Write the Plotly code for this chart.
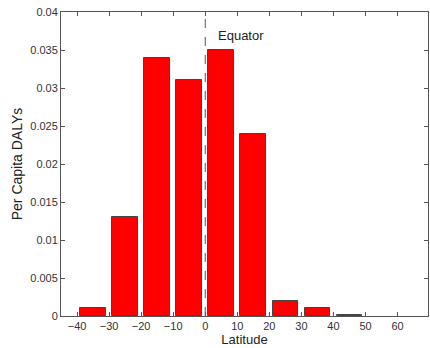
import plotly.graph_objects as go

latitude = [-35, -25, -15, -5, 5, 15, 25, 35, 45]
dalys = [0.001, 0.013, 0.034, 0.031, 0.035, 0.024, 0.002, 0.001, 0.00015]
x_ticks = [-40, -30, -20, -10, 0, 10, 20, 30, 40, 50, 60]
y_ticks = [0, 0.005, 0.01, 0.015, 0.02, 0.025, 0.03, 0.035, 0.04]
y_ticktext = ["0", "0.005", "0.01", "0.015", "0.02", "0.025", "0.03", "0.035", "0.04"]

FONT = "Liberation Sans, Arial, Helvetica"

fig = go.Figure()
fig.add_trace(go.Bar(
    x=latitude, y=dalys, width=8,
    marker=dict(color="#ff0000", line=dict(color="#444444", width=1)),
))
fig.add_shape(type="line", x0=0, x1=0, y0=0, y1=0.04, xref="x", yref="y",
              line=dict(color="#555555", width=1, dash="dash"))
fig.add_annotation(x=3.5, y=0.0369, text="Equator", showarrow=False,
                   xanchor="left", yanchor="middle",
                   font=dict(size=13, color="#222222", family=FONT))

axis_common = dict(showline=True, linecolor="#555555", linewidth=1, mirror="ticks",
                   ticks="inside", ticklen=4, tickcolor="#555555", showgrid=False,
                   zeroline=False, automargin=False, ticklabeloverflow="allow",
                   tickfont=dict(size=11, color="#333333", family=FONT))
fig.update_xaxes(range=[-45, 69.5], tickvals=x_ticks,
                 title=dict(text="Latitude", standoff=2,
                            font=dict(size=13, color="#222222", family=FONT)),
                 **axis_common)
fig.update_yaxes(range=[0, 0.04], tickvals=y_ticks, ticktext=y_ticktext,
                 title=dict(text="Per Capita DALYs", standoff=4,
                            font=dict(size=14, color="#222222", family=FONT)),
                 **axis_common)
fig.update_layout(width=430, height=348, margin=dict(l=61, r=2, t=12, b=32),
                  plot_bgcolor="white", paper_bgcolor="white", showlegend=False,
                  bargap=0)
# remove the default 8px page margin so the figure fills the window exactly
fig.write_html("out.html", config={"displayModeBar": False},
               post_script="document.body.style.margin='0';document.body.style.overflow='hidden';")
